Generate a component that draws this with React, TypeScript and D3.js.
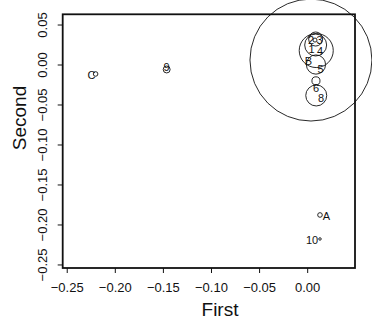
import React from 'react';
import * as d3 from 'd3';

// circle symbols: centre (first, second) and radius in "first" units
const circleX = [-0.2205, -0.1466, 0.0128, 0.0128, 0.0034, 0.0083, 0.0083, 0.0089, 0.0076, 0.0086, 0.0086, 0.0089];
const circleY = [-0.0112, -0.0056, -0.1875, -0.2175, 0.0062, 0.0325, 0.025, 0.0181, 0.0312, 0.0006, -0.0198, -0.0381];
const circleR = [0.0024, 0.0036, 0.0024, 0.0013, 0.0634, 0.0073, 0.0114, 0.0177, 0.0021, 0.01, 0.0042, 0.0109];

// text labels
const labelText = ['C', '9', 'A', '10', '2', '3', '1', '4', 'B', '5', '6', '8'];
const labelX = [-0.2248, -0.1466, 0.0195, 0.0045, 0.0034, 0.0123, 0.004, 0.0128, 0.0008, 0.0133, 0.0086, 0.0138];
const labelY = [-0.0125, -0.0025, -0.1888, -0.2188, 0.0312, 0.0312, 0.0194, 0.0175, 0.005, -0.0056, -0.0288, -0.0412];

const xTicks = [-0.25, -0.2, -0.15, -0.1, -0.05, 0.0];
const yTicks = [-0.25, -0.2, -0.15, -0.1, -0.05, 0.0, 0.05];

const W = 372;
const H = 322;
const left = 62.7, right = 355, top = 14.3, bottom = 268;

const App = () => {
  const x = d3.scaleLinear().domain([-0.2547, 0.0492]).range([left, right]);
  const y = d3.scaleLinear().domain([-0.2538, 0.0634]).range([bottom, top]);
  const rs = x(1) - x(0);
  const font = '"Liberation Sans", Arial, Helvetica, sans-serif';

  return (
    <svg width={W} height={H} style={{ position: 'absolute', left: 0, top: 0, background: '#fff' }} fontFamily={font}>
      <rect x={0} y={0} width={W} height={H} fill="#fff" />

      {/* symbols */}
      {circleX.map((cx, i) => (
        <circle key={'c' + i} cx={x(cx)} cy={y(circleY[i])} r={circleR[i] * rs}
          fill="none" stroke="#111" strokeWidth={0.9} />
      ))}

      {/* labels */}
      {labelText.map((t, i) => (
        <text key={'l' + i} x={x(labelX[i])} y={y(labelY[i])} fontSize={11}
          textAnchor="middle" dominantBaseline="central" fill="#111">{t}</text>
      ))}

      {/* box */}
      <rect x={left} y={top} width={right - left} height={bottom - top} fill="none" stroke="#111" strokeWidth={1.8} />

      {/* x axis */}
      {xTicks.map(t => (
        <g key={'xt' + t}>
          <line x1={x(t)} x2={x(t)} y1={bottom} y2={bottom + 5} stroke="#111" strokeWidth={1} />
          <text x={x(t)} y={287} fontSize={13} textAnchor="middle" dominantBaseline="central" fill="#111">
            {d3.format('.2f')(t)}
          </text>
        </g>
      ))}

      {/* y axis */}
      {yTicks.map(t => (
        <g key={'yt' + t}>
          <line x1={left} x2={left - 5} y1={y(t)} y2={y(t)} stroke="#111" strokeWidth={1} />
          <text transform={`translate(42,${y(t)}) rotate(-90)`} fontSize={13} textAnchor="middle"
            dominantBaseline="central" fill="#111">
            {d3.format('.2f')(t)}
          </text>
        </g>
      ))}

      <text x={220} y={309} fontSize={19} textAnchor="middle" dominantBaseline="central" fill="#111">First</text>
      <text transform="translate(19,118) rotate(-90)" fontSize={19} textAnchor="middle"
        dominantBaseline="central" fill="#111">Second</text>
    </svg>
  );
};

export default App;
